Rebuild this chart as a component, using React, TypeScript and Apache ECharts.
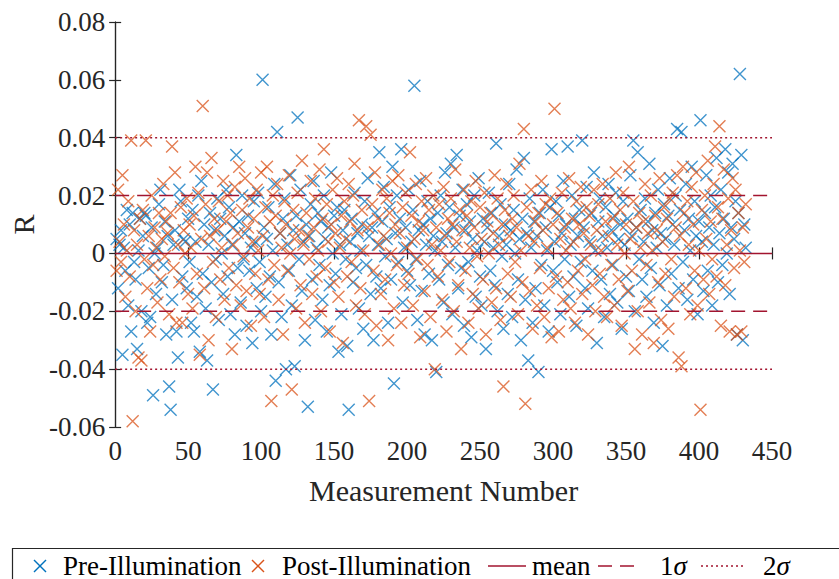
import React, { useEffect, useRef } from "react";
import * as echarts from "echarts";

// Values in thousandths of R, one per measurement number (1..432)
const preIllumination: number[] = [
  5, -12, 3, 8, -35, 2, -6, 15, -18, 10,
  -27, 14, -3, -9, -33, 1, 12, -20, 6, 14,
  13, -24, -5, -22, 9, -49, 0, -14, 2, 17,
  22, -10, -4, 11, -28, 6, -46, -54, -16, 3,
  8, -27, -36, 22, 18, -8, 5, 4, -12, 12,
  -3, -24, 15, -27, 4, -15, 20, -34, 25, -7,
  10, -19, -37, 3, 14, -10, -47, 8, -2, 19,
  -23, 12, 0, -14, 6, 22, -8, 16, -21, 3,
  9, -28, 34, -5, 11, -17, 20, -2, 7, -25,
  13, -6, 2, -31, 18, 4, -12, 21, -3, -20,
  60, 9, -15, 5, 16, -8, -28, 1, 24, -44,
  42, -10, 7, -22, 12, 19, -40, 3, -6, 27,
  -18, 8, -39, 13, 47, -2, 22, -13, 4, -30,
  10, -53, 6, 17, -9, 25, -23, 2, 14, -4,
  11, -16, 20, 5, -27, 9, -11, 28, 0, 13,
  -7, 16, -34, 3, -21, 8, 15, -2, -32, -54,
  4, 12, -10, 21, -5, 7, -19, 1, 10, -26,
  18, -4, 26, 6, -14, 9, -30, 14, -8, 3,
  35, -12, 11, 23, -1, 5, -24, 16, -9, 30,
  -45, 7, 20, -3, 12, 36, -17, 2, 9, -6,
  22, -11, 4, 15, 58, -2, -23, 8, 25, -13,
  10, -28, 3, 18, -7, 12, -30, 6, 1, -41,
  14, -9, 20, 4, -17, 28, 7, -4, 16, 31,
  -21, 9, 2, 34, -12, 13, -5, 22, -25, 8,
  17, -3, 11, -29, 5, 20, -15, 1, 26, -8,
  -18, 12, 4, -33, 9, 21, -6, 14, 2, -11,
  38, -20, 6, 17, -1, -26, 10, 3, -14, 24,
  8, -22, 15, 0, 29, -9, 5, -30, 12, 33,
  -16, 7, -37, 19, 2, -24, 11, -12, 6, -41,
  14, -4, 22, -18, 9, 1, -27, 16, 36, -6,
  4, 18, -10, 13, -21, 7, 25, -2, 10, 37,
  -15, 3, 20, -8, 12, -25, 6, 15, -3, 39,
  9, -12, 23, -19, 4, 14, -6, 28, 1, -31,
  11, 19, -9, 6, -22, 16, 2, 24, -14, 8,
  -4, 13, 21, -17, 5, 10, -26, 18, 3, -8,
  12, -13, 27, 6, 39, -20, 9, 35, -2, 15,
  -9, 4, 19, -15, 11, 31, -5, 8, -24, 14,
  2, 22, -11, 7, -32, 17, 5, -18, 13, 26,
  -7, 10, 3, 20, 43, -12, 15, 42, -3, 8,
  24, -16, 12, 1, 30, -9, 18, 6, -21, 11,
  46, 4, -13, 14, 27, -6, 9, 20, -18, 3,
  16, 33, -10, 7, 22, -4, 12, 36, 0, 28,
  -14, 9, 31, 5, 18, -28, 14, 62, 34, -30,
  10, 2,
];

const postIllumination: number[] = [
  -6, 22, 4, -3, 27, 10, -15, 1, 18, -8,
  39, -58, 8, -20, 3, -36, 12, -37, 15, -2,
  39, -12, 6, -27, 20, -4, 9, 2, -17, 14,
  -9, 5, 24, -1, 11, 7, -21, 14, 37, -5,
  28, -24, 3, -10, 16, -24, 8, 0, 19, -14,
  10, 2, -19, 13, 30, -7, 21, -35, 5, 51,
  -12, 17, 28, -30, 6, 33, -3, 12, -22, 8,
  18, -9, 2, 25, -16, 11, 20, -5, 14, -33,
  3, 23, -11, 7, 30, -18, 15, -1, 26, -13,
  9, 19, -25, 4, 12, -7, 22, 1, -14, 28,
  6, -22, 16, 30, -9, 11, -51, 20, -4, 13,
  24, -16, 7, 2, -28, 18, 10, -6, 27, 0,
  -47, 15, 5, -19, 21, 8, -11, 32, 3, -24,
  14, 6, -2, 25, -14, 9, 19, -8, 1, 29,
  -20, 12, 36, -5, 17, 4, -27, 10, 22, -10,
  7, 26, -15, 2, 13, -31, 18, 5, -8, 24,
  11, -3, 20, 31, -18, 8, 46, -12, 15, 1,
  -21, 44, 9, -51, 41, 17, -6, 28, -25, 12,
  3, -14, 22, 6, -9, 19, -30, 14, 0, 25,
  -19, 10, -4, 27, 7, -24, 16, -11, 21, 2,
  -7, 35, 13, -18, 5, 24, -2, 11, -29, 18,
  8, -13, 26, -4, 15, -22, 3, 20, -40, 9,
  -8, 17, 1, -16, 23, 6, -27, 12, -3, 19,
  10, -20, 29, 4, -11, 15, -33, 8, 22, -6,
  13, -24, 2, 18, -14, 9, 25, -1, -19, 16,
  5, -9, 21, -28, 11, 0, 14, -17, 7, 27,
  -12, 19, 3, -23, 10, -46, 15, 24, -7, 6,
  -15, 12, 20, -3, 9, -21, 31, 1, -10, 43,
  -52, 16, 6, -13, 22, -26, 4, 11, -18, 14,
  -5, 25, 8, -22, 17, 2, -12, 19, -29, 10,
  50, -8, 14, -27, 5, 21, -16, 9, 1, -10,
  26, -19, 12, 4, -24, 18, -6, 10, 23, -14,
  7, -2, 16, -28, 13, 3, -11, 22, -20, 8,
  17, -7, 1, 24, -15, 11, -22, 6, 19, -4,
  12, -18, 28, 3, -9, 15, -25, 21, 0, 10,
  -13, 30, 5, -6, 18, -33, 9, -20, 14, 2,
  -28, 11, 24, -4, 7, -17, 20, 1, -31, 13,
  8, -10, 26, -23, 4, 16, -7, 12, -26, 19,
  -2, 21, -15, 9, 27, -36, 6, -39, 30, 14,
  -12, 18, 3, -21, 23, 10, -6, 28, -18, 1,
  -54, 15, -9, 20, 5, 32, -14, 11, -2, 24,
  37, -8, 16, 44, -25, 12, 29, -11, 3, 19,
  -27, 8, 26, -5, 22, -28, 14, 1, -27, 9,
  -3, 17,
];

const MEAN = 0;
const SIGMA1 = 0.02;
const SIGMA2 = 0.04;
const X_RANGE = [0, 450];
const Y_RANGE = [-0.06, 0.08];

const BLUE = "#0072BD";
const ORANGE = "#D95319";
const RED = "#A2142F";
const AXIS = "#262626";
const FONT = "Liberation Serif";
const XMARK = "path://M0,0L10,10M10,0L0,10";

const toPoints = (arr: number[]) => arr.map((v, i) => [i + 1, v / 1000]);
const hLine = (y: number) => [
  [X_RANGE[0], y],
  [X_RANGE[1], y],
];

export default function App() {
  const ref = useRef<HTMLDivElement>(null);

  useEffect(() => {
    if (!ref.current) return;
    const chart = echarts.init(ref.current, undefined, { renderer: "svg" });

    const scatterStyle = (c: string) => ({
      color: "rgba(0,0,0,0)",
      borderColor: c,
      borderWidth: 1.4,
      opacity: 0.75,
    });
    const lineSeries = (name: string, y: number, type: any, width: number) => ({
      name,
      type: "line",
      data: hLine(y),
      symbol: "none",
      z: 5,
      lineStyle: { color: RED, width, type },
      silent: true,
    });

    const axisCommon = {
      axisLine: { show: true, lineStyle: { color: AXIS, width: 1.2 } },
      axisTick: { show: true, inside: true, length: 6, lineStyle: { color: AXIS, width: 1.2 } },
      splitLine: { show: false },
    };

    const LF = 27;
    const legendY = 566;
    const textStyle = (text: string) => ({
      text,
      fontSize: LF,
      fontFamily: FONT,
      fill: "#000",
      verticalAlign: "middle",
      rich: { i: { fontStyle: "italic", fontSize: LF, fontFamily: FONT, fill: "#000" } },
    });
    const gfx: any[] = [
      {
        type: "rect",
        shape: { x: 12.5, y: 548.5, width: 840, height: 40 },
        style: { fill: "#fff", stroke: AXIS, lineWidth: 1.2 },
      },
      {
        type: "polyline",
        shape: { points: [[34, legendY - 6], [46, legendY + 6]] },
        style: { stroke: BLUE, lineWidth: 1.4, fill: null },
      },
      {
        type: "polyline",
        shape: { points: [[46, legendY - 6], [34, legendY + 6]] },
        style: { stroke: BLUE, lineWidth: 1.4, fill: null },
      },
      { type: "text", x: 63, y: legendY, style: textStyle("Pre-Illumination") },
      {
        type: "polyline",
        shape: { points: [[252, legendY - 6], [264, legendY + 6]] },
        style: { stroke: ORANGE, lineWidth: 1.4, fill: null },
      },
      {
        type: "polyline",
        shape: { points: [[264, legendY - 6], [252, legendY + 6]] },
        style: { stroke: ORANGE, lineWidth: 1.4, fill: null },
      },
      { type: "text", x: 282, y: legendY, style: textStyle("Post-Illumination") },
      {
        type: "line",
        shape: { x1: 488, y1: legendY, x2: 526, y2: legendY },
        style: { stroke: RED, lineWidth: 1.5 },
      },
      { type: "text", x: 532, y: legendY, style: textStyle("mean") },
      {
        type: "line",
        shape: { x1: 598, y1: legendY, x2: 640, y2: legendY },
        style: { stroke: RED, lineWidth: 1.5, lineDash: [14, 8] },
      },
      { type: "text", x: 660, y: legendY, style: textStyle("1{i|σ}") },
      {
        type: "line",
        shape: { x1: 701, y1: legendY, x2: 745, y2: legendY },
        style: { stroke: RED, lineWidth: 1.5, lineDash: [2, 3] },
      },
      { type: "text", x: 763, y: legendY, style: textStyle("2{i|σ}") },
    ];

    chart.setOption({
      animation: false,
      backgroundColor: "#fff",
      grid: { left: 113, top: 22, right: 67, bottom: 152, containLabel: false },
      xAxis: [
        {
          type: "value",
          min: X_RANGE[0],
          max: X_RANGE[1],
          interval: 50,
          position: "bottom",
          ...axisCommon,
          axisLabel: { color: AXIS, fontSize: 27, fontFamily: FONT, margin: 10 },
          name: "Measurement Number",
          nameLocation: "middle",
          nameGap: 48,
          nameTextStyle: { color: AXIS, fontSize: 30, fontFamily: FONT },
        },
        {
          type: "value",
          min: X_RANGE[0],
          max: X_RANGE[1],
          interval: 50,
          position: "top",
          ...axisCommon,
          axisLabel: { show: false },
        },
      ],
      yAxis: [
        {
          type: "value",
          min: Y_RANGE[0],
          max: Y_RANGE[1],
          interval: 0.02,
          position: "left",
          ...axisCommon,
          axisLabel: {
            color: AXIS,
            fontSize: 27,
            fontFamily: FONT,
            margin: 10,
            formatter: (v: number) => (Math.abs(v) < 1e-9 ? "0" : v.toFixed(2)),
          },
          name: "R",
          nameLocation: "middle",
          nameGap: 72,
          nameRotate: 90,
          nameTextStyle: { color: AXIS, fontSize: 30, fontFamily: FONT },
        },
        {
          type: "value",
          min: Y_RANGE[0],
          max: Y_RANGE[1],
          interval: 0.02,
          position: "right",
          ...axisCommon,
          axisLabel: { show: false },
        },
      ],
      series: [
        {
          name: "Pre-Illumination",
          type: "scatter",
          data: toPoints(preIllumination),
          symbol: XMARK,
          symbolSize: 12,
          itemStyle: scatterStyle(BLUE),
          z: 2,
        },
        {
          name: "Post-Illumination",
          type: "scatter",
          data: toPoints(postIllumination),
          symbol: XMARK,
          symbolSize: 12,
          itemStyle: scatterStyle(ORANGE),
          z: 3,
        },
        lineSeries("mean", MEAN, "solid", 1.5),
        lineSeries("1σ", MEAN + SIGMA1, [14, 8], 1.5),
        lineSeries("1σ", MEAN - SIGMA1, [14, 8], 1.5),
        lineSeries("2σ", MEAN + SIGMA2, [2, 3], 1.5),
        lineSeries("2σ", MEAN - SIGMA2, [2, 3], 1.5),
      ],
      graphic: gfx,
    });

    return () => chart.dispose();
  }, []);

  return <div ref={ref} style={{ width: 839, height: 579, position: "absolute", left: 0, top: 0 }} />;
}
